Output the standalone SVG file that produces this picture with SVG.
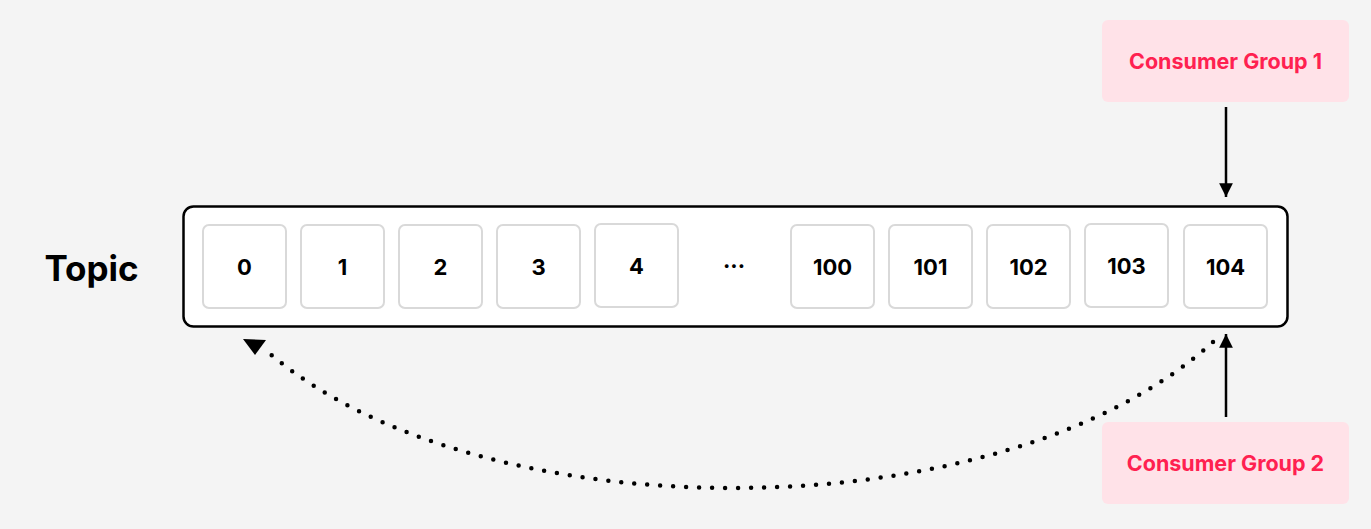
<svg xmlns="http://www.w3.org/2000/svg" width="1371" height="529" viewBox="0 0 1371 529">
<style>
.cell{fill:#ffffff;stroke:#d9d9d9;stroke-width:2}
.num{font-family:Inter,"Liberation Sans",sans-serif;font-weight:700;font-size:22px;fill:#000;text-anchor:middle;dominant-baseline:central}
.grp{fill:#ffe2e8}
.grpt{font-family:Inter,"Liberation Sans",sans-serif;font-weight:700;font-size:21.5px;fill:#ff2150;text-anchor:middle;dominant-baseline:central}
.conn{stroke:#000;stroke-width:2.5;fill:none}
</style>
<defs>
<marker id="ah" viewBox="0 0 10 10" refX="10" refY="5" markerWidth="5.5" markerHeight="5.5" orient="auto" markerUnits="strokeWidth">
<path d="M0,0 L10,5 L0,10 Z" fill="#000"/>
</marker>
</defs>
<rect width="1371" height="529" fill="#f4f4f4"/>
<text x="91.5" y="268" font-family="Inter,'Liberation Sans',sans-serif" font-weight="700" font-size="35" text-anchor="middle" dominant-baseline="central" fill="#000">Topic</text>
<g id="topic">
<rect x="183.5" y="206.5" width="1104" height="120" rx="10" fill="#fff" stroke="#000" stroke-width="2.5"/>
</g>
<g id="cell-0"><rect class="cell" x="203" y="225" width="83" height="83" rx="6"/><text class="num" x="244.5" y="267">0</text></g>
<g id="cell-1"><rect class="cell" x="301" y="225" width="83" height="83" rx="6"/><text class="num" x="342.5" y="267">1</text></g>
<g id="cell-2"><rect class="cell" x="399" y="225" width="83" height="83" rx="6"/><text class="num" x="440.5" y="267">2</text></g>
<g id="cell-3"><rect class="cell" x="497" y="225" width="83" height="83" rx="6"/><text class="num" x="538.5" y="267">3</text></g>
<g id="cell-4"><rect class="cell" x="595" y="224" width="83" height="83" rx="6"/><text class="num" x="636.5" y="266">4</text></g>
<g id="ellipsis"><text class="num" x="734" y="259.5" font-size="29">...</text></g>
<g id="cell-100"><rect class="cell" x="791" y="225" width="83" height="83" rx="6"/><text class="num" x="832.5" y="267">100</text></g>
<g id="cell-101"><rect class="cell" x="889" y="225" width="83" height="83" rx="6"/><text class="num" x="930.5" y="267">101</text></g>
<g id="cell-102"><rect class="cell" x="987" y="225" width="83" height="83" rx="6"/><text class="num" x="1028.5" y="267">102</text></g>
<g id="cell-103"><rect class="cell" x="1085" y="224" width="83" height="83" rx="6"/><text class="num" x="1126.5" y="266">103</text></g>
<g id="cell-104"><rect class="cell" x="1184" y="225" width="83" height="83" rx="6"/><text class="num" x="1225.5" y="267">104</text></g>
<g id="cg1"><rect class="grp" x="1102" y="20" width="247" height="82" rx="6"/><text class="grpt" x="1225.5" y="61">Consumer Group 1</text></g>
<g id="cg2"><rect class="grp" x="1102" y="422" width="247" height="82" rx="6"/><text class="grpt" x="1225.5" y="463">Consumer Group 2</text></g>
<g id="connectors">
<line class="conn" x1="1226" y1="107" x2="1226" y2="197" marker-end="url(#ah)"/>
<line class="conn" x1="1226" y1="417" x2="1226" y2="334" marker-end="url(#ah)"/>
<path d="M1213,342 C1000,535 480,535 268,352" fill="none" stroke="#000" stroke-width="4.5" stroke-linecap="round" stroke-dasharray="0 13"/>
<polygon points="243,339 266,340 255,355" fill="#000"/>
</g>
</svg>
